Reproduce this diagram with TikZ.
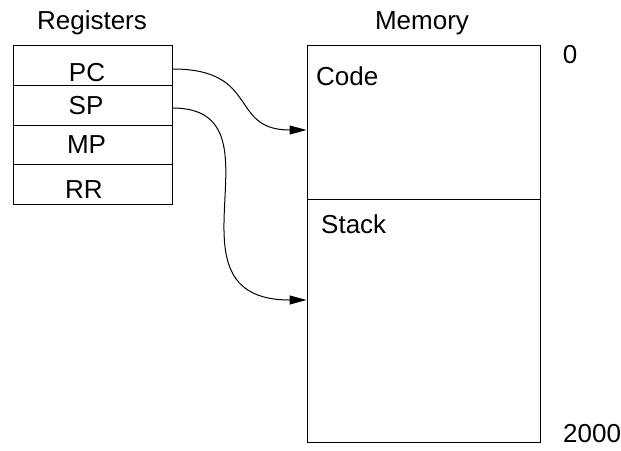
\documentclass[tikz,border=0pt]{standalone}
\usepackage{fontspec}
\setmainfont{Liberation Sans}
\usetikzlibrary{arrows.meta}

\tikzset{
  cell/.style={draw, line width=1pt, inner sep=0pt, minimum width=159pt},
  region/.style={draw, line width=1pt, inner sep=0pt, minimum width=233pt},
  txt/.style={inner sep=0pt, font=\fontsize{26}{31}\selectfont},
  ptr/.style={line width=1pt, -{Triangle[length=17pt,width=9pt]}}
}

\begin{document}
\begin{tikzpicture}[x=1pt,y=-1pt]
\useasboundingbox (0,0) rectangle (621,450);

% headings
\node[txt, anchor=base] (hreg) at (92,29) {Registers};
\node[txt, anchor=base] (hmem) at (422,29) {Memory};

% register file
\node[cell, minimum height=40pt] (pc) at (92.5,65) {};
\node[cell, minimum height=40pt] (sp) at (92.5,105) {};
\node[cell, minimum height=39pt] (mp) at (92.5,144.5) {};
\node[cell, minimum height=40pt] (rr) at (92.5,184) {};
\node[txt, anchor=base] (tpc) at (87,81) {PC};
\node[txt, anchor=base] (tsp) at (86,114) {SP};
\node[txt, anchor=base] (tmp) at (86.5,153) {MP};
\node[txt, anchor=base] (trr) at (84,198) {RR};

% memory layout
\node[region, minimum height=154pt] (code) at (423.5,122) {};
\node[region, minimum height=243pt] (stack) at (423.5,320.5) {};
\node[txt, anchor=base west] (tcode) at (316,85) {Code};
\node[txt, anchor=base west] (tstack) at (321,233) {Stack};
\node[txt, anchor=base] (lo) at (570,63) {0};
\node[txt, anchor=base west] (hi) at (563,442) {2000};

% pointers into memory
\draw[ptr] ([yshift=-4pt]pc.east)
  .. controls +(88,0) and +(-78,0) .. ([yshift=-8pt]code.west);
\draw[ptr] ([yshift=-3pt]sp.east)
  .. controls +(118,0) and +(-152,0) .. ([yshift=20.5pt]stack.west);
\end{tikzpicture}
\end{document}
